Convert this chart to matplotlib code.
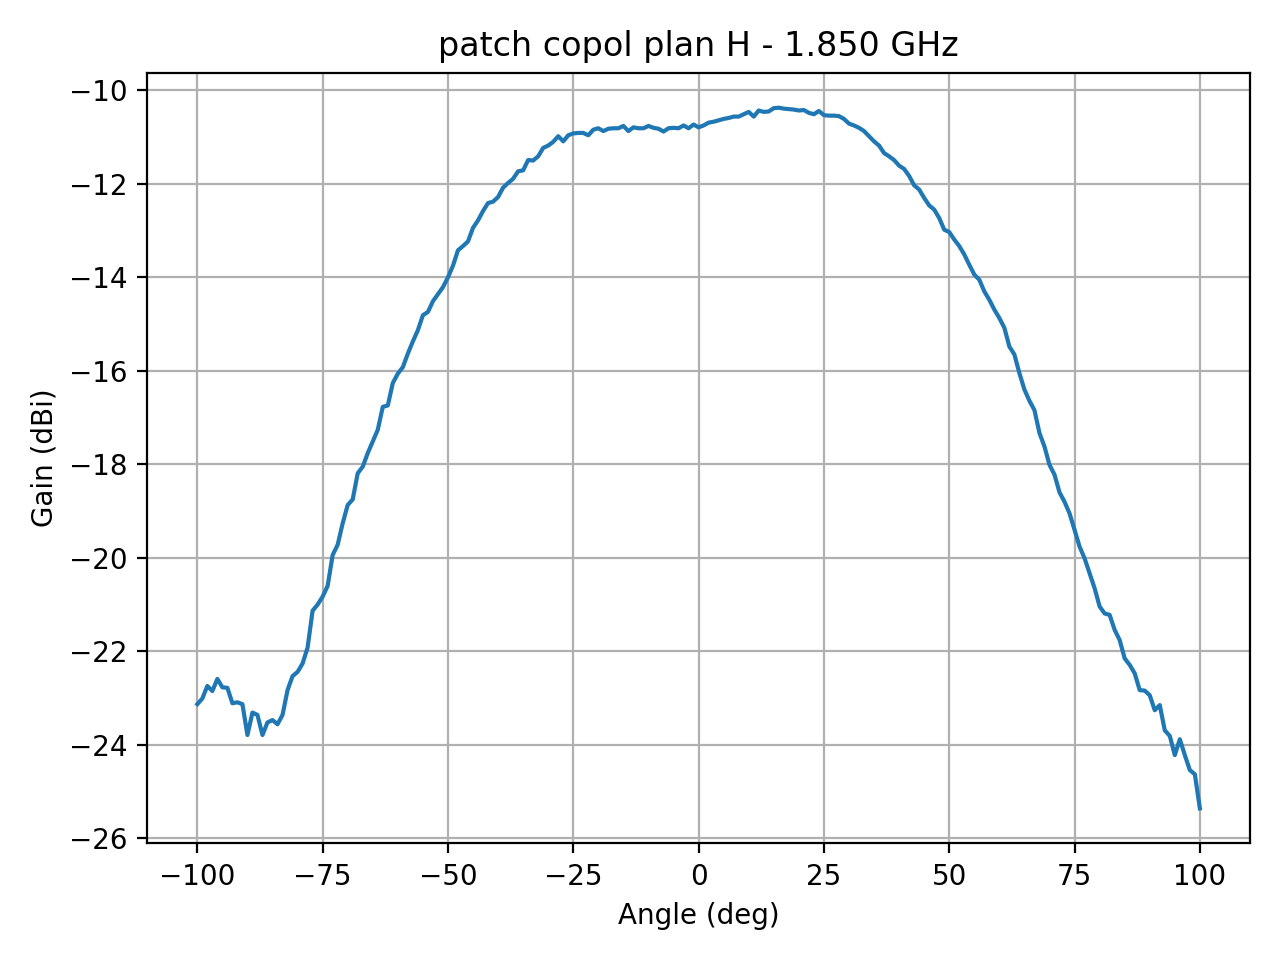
import matplotlib
matplotlib.use('Agg')
import matplotlib.pyplot as plt
import numpy as np

freq = 1.850
angles = np.arange(-100, 101, 1)

gain = [
    # -100 .. -76
    -23.13, -23.01, -22.74, -22.85, -22.59, -22.77, -22.78, -23.11, -23.09, -23.13,
    -23.79, -23.31, -23.36, -23.79, -23.52, -23.47, -23.56, -23.36, -22.83, -22.53,
    -22.44, -22.26, -21.92, -21.13, -21.00,
    # -75 .. -51
    -20.83, -20.60, -19.94, -19.72, -19.26, -18.87, -18.75, -18.19, -18.05, -17.76,
    -17.51, -17.26, -16.77, -16.74, -16.26, -16.06, -15.92, -15.63, -15.37, -15.13,
    -14.81, -14.74, -14.51, -14.36, -14.21,
    # -50 .. -26
    -14.00, -13.75, -13.42, -13.33, -13.23, -12.94, -12.78, -12.58, -12.41, -12.38,
    -12.28, -12.08, -11.98, -11.89, -11.73, -11.71, -11.49, -11.50, -11.41, -11.23,
    -11.18, -11.10, -10.98, -11.09, -10.96,
    # -25 .. -1
    -10.92, -10.91, -10.91, -10.96, -10.84, -10.81, -10.87, -10.82, -10.81, -10.81,
    -10.76, -10.87, -10.79, -10.81, -10.81, -10.76, -10.80, -10.82, -10.88, -10.81,
    -10.80, -10.81, -10.75, -10.81, -10.73,
    # 0 .. 24
    -10.79, -10.75, -10.69, -10.67, -10.64, -10.61, -10.59, -10.56, -10.56, -10.51,
    -10.46, -10.56, -10.43, -10.46, -10.45, -10.38, -10.37, -10.39, -10.40, -10.41,
    -10.43, -10.42, -10.48, -10.51, -10.44,
    # 25 .. 49
    -10.53, -10.54, -10.54, -10.55, -10.61, -10.71, -10.75, -10.80, -10.87, -10.98,
    -11.09, -11.18, -11.34, -11.41, -11.49, -11.61, -11.68, -11.83, -12.03, -12.12,
    -12.30, -12.46, -12.55, -12.73, -12.98,
    # 50 .. 74
    -13.03, -13.19, -13.33, -13.51, -13.73, -13.94, -14.05, -14.30, -14.48, -14.69,
    -14.87, -15.08, -15.48, -15.65, -16.05, -16.40, -16.64, -16.84, -17.33, -17.62,
    -18.01, -18.22, -18.60, -18.80, -19.05,
    # 75 .. 100
    -19.40, -19.76, -20.01, -20.33, -20.65, -21.04, -21.19, -21.22, -21.54, -21.76,
    -22.15, -22.29, -22.47, -22.83, -22.84, -22.94, -23.26, -23.15, -23.69, -23.81,
    -24.22, -23.88, -24.22, -24.54, -24.63, -25.36,
]

fig, ax = plt.subplots(figsize=(6.4, 4.8), dpi=200)
ax.plot(angles, gain)
ax.grid(True)
ax.set_title('patch copol plan H - %.3f GHz' % freq)
ax.set_xlabel('Angle (deg)')
ax.set_ylabel('Gain (dBi)')
fig.tight_layout()
fig.savefig('out.png', dpi=200)
